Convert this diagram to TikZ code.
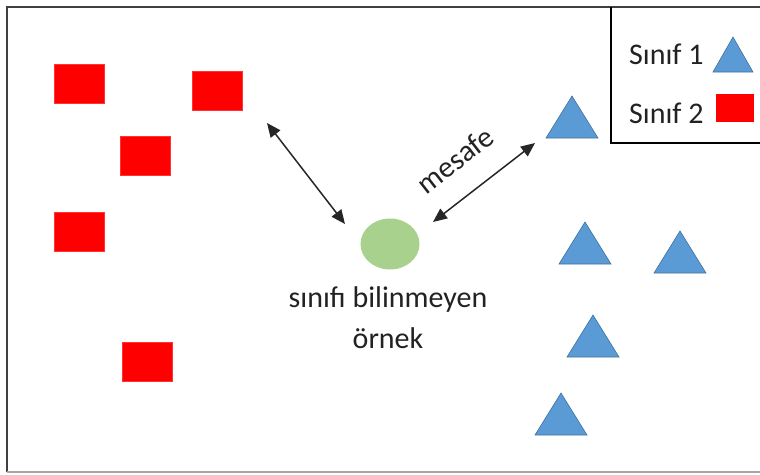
\documentclass[tikz,border=0pt]{standalone}
\usepackage{fontspec}
\setmainfont{Carlito}
\usetikzlibrary{arrows.meta,shapes.geometric}
\definecolor{sqred}{HTML}{FF0000}
\definecolor{trifill}{HTML}{5B9BD5}
\definecolor{triline}{HTML}{41719C}
\definecolor{ellfill}{HTML}{A9D18E}
\definecolor{txt}{HTML}{222222}
\tikzset{
  sqbox/.style={rectangle,fill=sqred,draw=sqred!80!white,line width=0.5pt,minimum width=50pt,minimum height=39pt,inner sep=0pt},
  legsq/.style={rectangle,fill=sqred,minimum width=38pt,minimum height=28pt,inner sep=0pt},
  tri/.pic={\path[fill=trifill,draw=triline,line width=0.6pt] (-26,21) -- (26,21) -- (0,-21) -- cycle;},
  smalltri/.pic={\path[fill=trifill,draw=triline,line width=0.6pt] (-20,17) -- (20,17) -- (0,-18) -- cycle;},
  lbl/.style={font=\fontsize{30}{36}\selectfont,text=txt,inner sep=0pt},
  dist/.style={{Triangle[length=14pt,width=12pt]}-{Triangle[length=14pt,width=12pt]},line width=1.5pt,draw=black!85},
}
\begin{document}
\begin{tikzpicture}[x=1pt,y=-1pt]
\useasboundingbox (0,0) rectangle (760,474);
% frame
\draw[line width=2.2pt,draw=black!75] (7,472) -- (7,7) -- (760,7);
\draw[line width=1.5pt,draw=black!35] (7,472) -- (760,472);
% legend box
\draw[line width=1.6pt,draw=black] (611,7) -- (611,143) -- (760,143);
\node[lbl,anchor=base west] (l1) at (629,64) {Sınıf 1};
\node[lbl,anchor=base west] (l2) at (629,123) {Sınıf 2};
\pic (lt) at (733,55) {smalltri};
\node[legsq] (ls) at (735,108) {};
% squares
\node[sqbox] (s1) at (79,84) {};
\node[sqbox] (s2) at (217,91) {};
\node[sqbox] (s3) at (145,156) {};
\node[sqbox] (s4) at (79,232) {};
\node[sqbox] (s5) at (147,362) {};
% triangles
\pic (t1) at (572,117) {tri};
\pic (t2) at (585,243) {tri};
\pic (t3) at (680,252) {tri};
\pic (t4) at (593,336) {tri};
\pic (t5) at (561,414) {tri};
% unknown sample
\node[ellipse,fill=ellfill,minimum width=59pt,minimum height=51pt,inner sep=0pt] (u) at (390,244) {};
\node[lbl,anchor=base] (ut1) at (388,307) {sınıfı bilinmeyen};
\node[lbl,anchor=base] (ut2) at (388,348) {örnek};
% distance arrows
\coordinate (a1s) at (267,123);
\coordinate (a1e) at (345,224);
\coordinate (a2s) at (433,222);
\coordinate (a2e) at (535,143);
\draw[dist] (a1s) -- (a1e);
\draw[dist] (a2s) -- (a2e);
\node[lbl,rotate=38] (m) at (455,160) {mesafe};
\end{tikzpicture}
\end{document}
